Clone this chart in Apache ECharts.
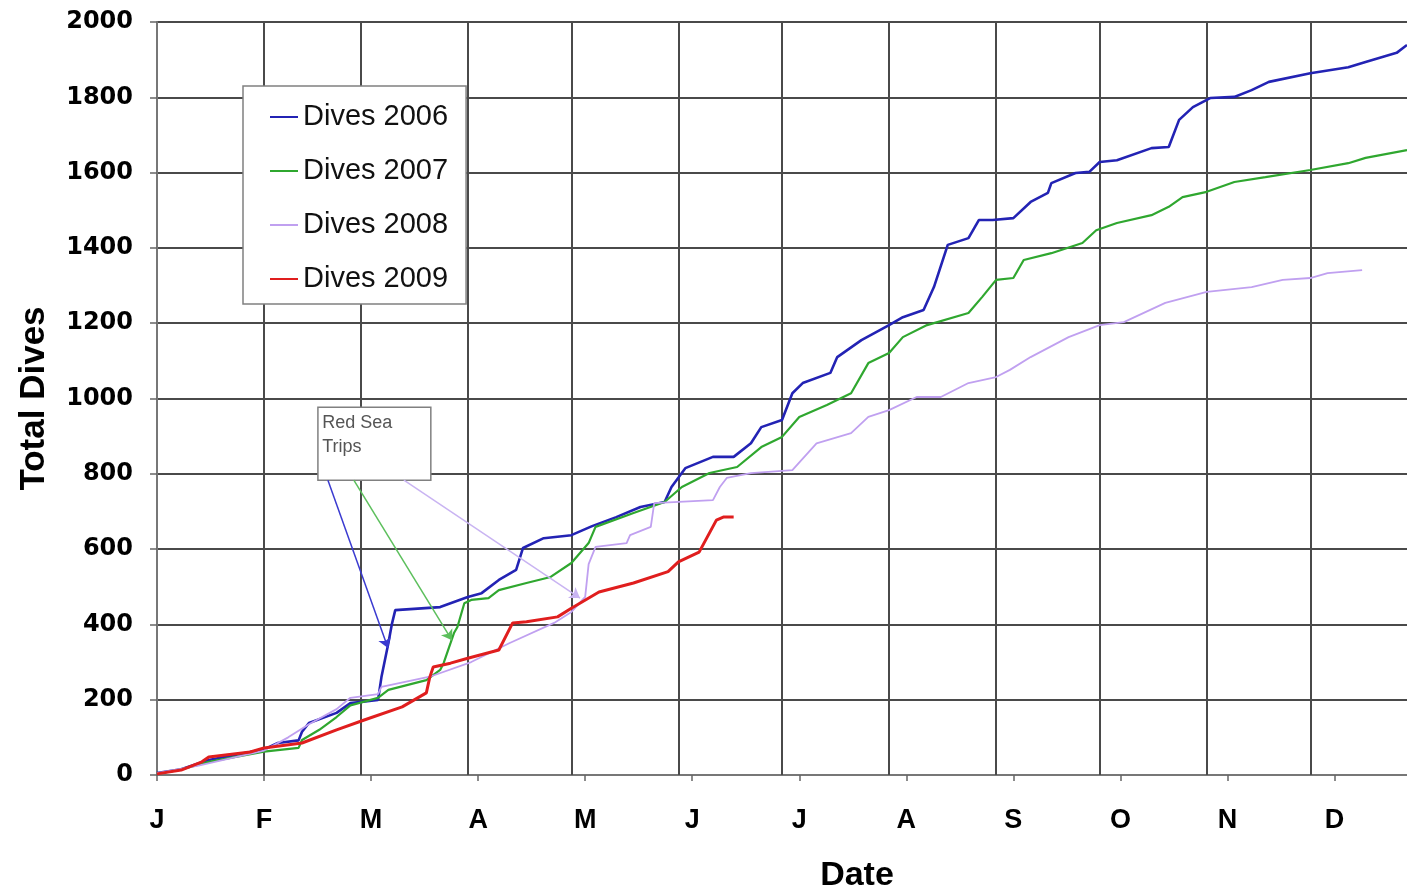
<!DOCTYPE html>
<html>
<head>
<meta charset="utf-8">
<script src="https://cdn.jsdelivr.net/npm/echarts@6/dist/echarts.min.js"></script>
<style>
html,body{margin:0;padding:0;background:#fff;}
#myChart{width:1407px;height:891px;}
</style>
</head>
<body>
<div id="myChart"></div>
<script>
// month letters, one every 31 days on the axis
var monthLabels = ['J','F','M','A','M','J','J','A','S','O','N','D'];
// vertical grid lines sit on the first day of each month
var monthStarts = [31,59,90,120,151,181,212,243,273,304,334];

// [day of year, total dives]
var dives2006 = [[0,5],[7,15],[15,40],[31,68],[35,85],[41,92],[42,115],[44,138],[52,165],[56,191],[64,199],[65,260],[67,350],[68,400],[69,438],[82,446],[90,473],[94,483],[99,518],[104,545],[106,603],[112,629],[120,637],[126,661],[133,685],[140,712],[147,725],[149,765],[153,815],[161,845],[167,845],[172,881],[175,924],[181,943],[184,1014],[187,1041],[195,1068],[197,1110],[204,1155],[212,1195],[216,1216],[222,1235],[225,1296],[229,1408],[235,1426],[238,1474],[242,1474],[248,1479],[253,1522],[258,1546],[259,1572],[266,1599],[270,1602],[273,1628],[278,1633],[288,1665],[293,1668],[296,1740],[300,1774],[305,1798],[312,1801],[317,1819],[322,1841],[334,1864],[345,1880],[350,1894],[359,1918],[362,1939]];
var dives2007 = [[0,3],[7,15],[15,35],[31,62],[41,72],[42,93],[47,120],[52,154],[56,185],[64,205],[67,226],[78,252],[82,279],[83,297],[85,350],[86,377],[87,393],[89,456],[91,465],[96,470],[99,491],[107,510],[114,526],[120,563],[125,616],[127,659],[138,696],[147,725],[152,765],[160,802],[168,818],[175,871],[181,898],[186,951],[194,983],[201,1014],[206,1094],[212,1121],[216,1163],[223,1195],[235,1227],[239,1270],[243,1315],[248,1320],[251,1368],[259,1386],[268,1413],[272,1447],[278,1466],[288,1487],[293,1509],[297,1535],[304,1549],[312,1575],[321,1588],[334,1607],[345,1625],[350,1639],[362,1660]];
var dives2008 = [[0,5],[12,25],[31,65],[38,100],[44,135],[52,175],[56,205],[64,215],[65,234],[79,261],[91,300],[102,350],[115,404],[120,433],[124,473],[125,560],[127,606],[136,616],[137,637],[143,659],[144,722],[161,730],[163,765],[165,789],[172,802],[184,810],[191,881],[201,908],[206,951],[212,969],[220,1004],[227,1004],[235,1041],[243,1057],[247,1076],[253,1110],[264,1163],[273,1195],[280,1203],[292,1254],[304,1283],[317,1296],[326,1315],[334,1320],[339,1333],[349,1341]];
var dives2009 = [[0,3],[7,13],[13,35],[15,48],[27,61],[31,72],[42,85],[52,120],[60,146],[71,181],[78,218],[79,260],[80,287],[85,297],[90,310],[99,332],[103,404],[107,407],[116,420],[120,443],[128,486],[138,510],[148,540],[151,566],[157,592],[162,677],[164,685],[167,685]];

// "Red Sea Trips" note: box corners and arrow ends, in day / dives
var noteBox = [[46.6,977],[79.3,783]];
var noteArrows = [
  {from:[49.5,783], to:[66.9,337], color:'#3a3ad0'},
  {from:[57,783], to:[85.4,358], color:'#5cbf5c'},
  {from:[71.5,783], to:[122.5,470], color:'#c9b4f2'}
];

var gridColor = '#4a4a4a';

var option = {
  animation:false,
  grid:{left:157, top:22, right:0, bottom:116, outerBoundsMode:'none'},
  legend:{
    orient:'vertical',
    left:243, top:86,
    padding:[16,18,10,27],
    itemGap:24,
    icon:'rect',
    itemWidth:28, itemHeight:2,
    backgroundColor:'#fff',
    borderColor:'#808080', borderWidth:1.5,
    textStyle:{fontFamily:'Liberation Sans', fontSize:29, lineHeight:30, color:'#111'},
    data:['Dives 2006','Dives 2007','Dives 2008','Dives 2009']
  },
  xAxis:{
    type:'value', min:0, max:362, interval:31,
    name:'Date', nameLocation:'middle', nameGap:84,
    nameTextStyle:{fontFamily:'Liberation Sans', fontWeight:'bold', fontSize:34, color:'#000', padding:[0,0,0,150]},
    axisLine:{show:true, lineStyle:{color:'#777', width:2}},
    axisTick:{show:true, length:6, lineStyle:{color:'#666', width:1.5}},
    axisLabel:{
      margin:32, showMaxLabel:false,
      fontFamily:'Liberation Sans', fontWeight:'bold', fontSize:27, color:'#000',
      formatter:function(v){ var i = Math.round(v/31); return monthLabels[i] || ''; }
    },
    splitLine:{show:false}
  },
  yAxis:{
    type:'value', min:0, max:2000, interval:200,
    name:'Total Dives', nameLocation:'middle', nameGap:105, nameRotate:90,
    nameTextStyle:{fontFamily:'Liberation Sans', fontWeight:'bold', fontSize:35, color:'#000'},
    axisLine:{show:true, lineStyle:{color:'#777', width:2}},
    axisTick:{show:true, length:7, lineStyle:{color:'#666', width:1.5}},
    axisLabel:{margin:24, fontFamily:'DejaVu Sans', fontWeight:'bold', fontSize:24, color:'#000',
      formatter:function(v){ return String(v); }},
    splitLine:{show:true, lineStyle:{color:gridColor, width:2}}
  },
  series:[
    {
      type:'line', data:[], z:1, silent:true,
      markLine:{
        z:1, silent:true, symbol:['none','none'], animation:false,
        label:{show:false},
        lineStyle:{color:gridColor, width:2, type:'solid'},
        data:monthStarts.map(function(d){ return {xAxis:d}; })
      }
    },
    {name:'Dives 2006', type:'line', data:dives2006, symbol:'none', z:3,
      lineStyle:{color:'#2323b4', width:2.6}, itemStyle:{color:'#2323b4'}},
    {name:'Dives 2007', type:'line', data:dives2007, symbol:'none', z:3,
      lineStyle:{color:'#2fa72f', width:2.2}, itemStyle:{color:'#2fa72f'}},
    {name:'Dives 2008', type:'line', data:dives2008, symbol:'none', z:3,
      lineStyle:{color:'#c0a0f0', width:1.8}, itemStyle:{color:'#c0a0f0'}},
    {name:'Dives 2009', type:'line', data:dives2009, symbol:'none', z:3,
      lineStyle:{color:'#e01e1e', width:3}, itemStyle:{color:'#e01e1e'}},
    {
      type:'line', data:[], z:4, silent:true,
      markArea:{
        z:4, silent:true,
        itemStyle:{color:'#fff', borderColor:'#808080', borderWidth:1.5},
        label:{show:true, position:'insideTopLeft', distance:5, formatter:'Red Sea\nTrips',
          fontFamily:'Liberation Sans', fontSize:18, lineHeight:24, color:'#555'},
        data:[[{coord:noteBox[0]},{coord:noteBox[1]}]]
      },
      markLine:{
        z:5, silent:true, symbol:['none','arrow'], symbolSize:10,
        label:{show:false},
        data:noteArrows.map(function(a){
          return [{coord:a.from, lineStyle:{color:a.color, width:1.5, type:'solid'}}, {coord:a.to}];
        })
      }
    }
  ]
};
echarts.init(document.getElementById('myChart')).setOption(option);
</script>
</body>
</html>
